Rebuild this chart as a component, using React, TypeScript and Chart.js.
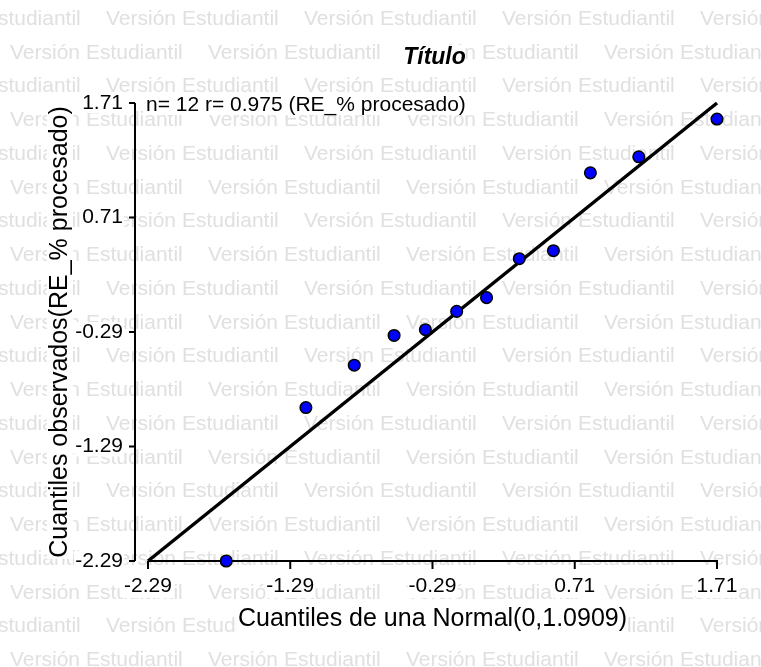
import React, { useEffect, useRef } from 'react';
import { Chart, registerables } from 'chart.js';

Chart.register(...registerables);

// ---- data ----
const xQuantiles = [-1.74, -1.18, -0.84, -0.56, -0.34, -0.12, 0.09, 0.32, 0.56, 0.82, 1.16, 1.71];
const yObserved = [-2.29, -0.95, -0.58, -0.32, -0.27, -0.11, 0.01, 0.35, 0.42, 1.1, 1.24, 1.57];
const lineX = [-2.29, 1.71];
const lineY = [-2.29, 1.71];
const tickValues = [-2.29, -1.29, -0.29, 0.71, 1.71];
const titleText = 'Título';
const noteText = 'n= 12 r= 0.975 (RE_% procesado)';
const xTitle = 'Cuantiles de una Normal(0,1.0909)';
const yTitle = 'Cuantiles observados(RE_% procesado)';
const watermarkText = 'Versión Estudiantil';

const FAMILY = '"Liberation Sans", Arial, sans-serif';
const fmt = (v: number) => Number(v).toFixed(2);

const decorPlugin = {
  id: 'decor',
  beforeDraw(chart: any) {
    const ctx = chart.ctx as CanvasRenderingContext2D;
    const { width, height, chartArea } = chart;
    const xs = chart.scales.x;
    const ys = chart.scales.y;
    ctx.save();
    ctx.fillStyle = '#ffffff';
    ctx.fillRect(0, 0, width, height);
    // watermark
    ctx.font = `21px ${FAMILY}`;
    ctx.fillStyle = '#e0e0e0';
    ctx.textBaseline = 'middle';
    ctx.textAlign = 'left';
    for (let k = 0; k < 20; k++) {
      const y = 19 + 33.75 * k;
      const x0 = k % 2 === 0 ? -92 : 10;
      for (let x = x0; x < width; x += 198) ctx.fillText(watermarkText, x, y);
    }
    // white backgrounds behind texts
    ctx.fillStyle = '#ffffff';
    ctx.font = `21px ${FAMILY}`;
    tickValues.forEach((v) => {
      const w = ctx.measureText(fmt(v)).width;
      const px = xs.getPixelForValue(v);
      ctx.fillRect(px - w / 2 - 1, chartArea.bottom + 16, w + 2, 21);
      const py = ys.getPixelForValue(v);
      ctx.fillRect(chartArea.left - 25 - w - 1, py - 10, w + 2, 20);
    });
    const nw = ctx.measureText(noteText).width;
    ctx.fillRect(chartArea.left - 3, chartArea.top - 8, nw + 2, 20);
    ctx.font = `bold italic 23px ${FAMILY}`;
    const tw = ctx.measureText(titleText).width;
    const cx = (chartArea.left + chartArea.right) / 2;
    ctx.fillRect(cx - tw / 2 - 1, 45, tw + 2, 26);
    ctx.font = `25px ${FAMILY}`;
    const xw = ctx.measureText(xTitle).width;
    ctx.fillRect(cx - xw / 2 - 1, 606, xw + 2, 26);
    const yw = ctx.measureText(yTitle).width;
    const cy = (chartArea.top + chartArea.bottom) / 2;
    ctx.fillRect(47, cy - yw / 2 - 1, 26, yw + 2);
    ctx.restore();
  },
  beforeDatasetsDraw(chart: any) {
    const ctx = chart.ctx as CanvasRenderingContext2D;
    const { chartArea } = chart;
    const xs = chart.scales.x;
    const ys = chart.scales.y;
    ctx.save();
    ctx.strokeStyle = '#000';
    ctx.lineWidth = 2;
    const ax = chartArea.left - 13;
    ctx.beginPath();
    ctx.moveTo(ax, chartArea.top);
    ctx.lineTo(ax, chartArea.bottom);
    tickValues.forEach((v) => {
      const py = ys.getPixelForValue(v);
      ctx.moveTo(ax - 6, py);
      ctx.lineTo(ax, py);
    });
    ctx.moveTo(chartArea.left, chartArea.bottom);
    ctx.lineTo(chartArea.right + 1, chartArea.bottom);
    tickValues.forEach((v) => {
      const px = xs.getPixelForValue(v);
      ctx.moveTo(px, chartArea.bottom);
      ctx.lineTo(px, chartArea.bottom + 8);
    });
    ctx.stroke();
    ctx.restore();
  },
  afterDraw(chart: any) {
    const ctx = chart.ctx as CanvasRenderingContext2D;
    const { chartArea } = chart;
    ctx.save();
    ctx.fillStyle = '#000';
    ctx.textBaseline = 'middle';
    ctx.textAlign = 'center';
    ctx.font = `bold italic 23px ${FAMILY}`;
    ctx.fillText(titleText, (chartArea.left + chartArea.right) / 2 + 2, 58);
    ctx.textAlign = 'left';
    ctx.font = `21px ${FAMILY}`;
    ctx.fillText(noteText, chartArea.left - 2, chartArea.top + 2);
    ctx.restore();
  },
};

export default function App() {
  const ref = useRef<HTMLCanvasElement>(null);
  useEffect(() => {
    if (!ref.current) return;
    const setTicks = (scale: any) => {
      scale.ticks = tickValues.map((v) => ({ value: v }));
    };
    const chart = new Chart(ref.current, {
      type: 'scatter',
      data: {
        datasets: [
          {
            type: 'scatter',
            data: xQuantiles.map((x, i) => ({ x, y: yObserved[i] })),
            backgroundColor: '#0000ff',
            borderColor: '#000000',
            borderWidth: 1.5,
            pointRadius: 5.8,
            clip: false,
          } as any,
          {
            type: 'line',
            data: lineX.map((x, i) => ({ x, y: lineY[i] })),
            borderColor: '#000000',
            borderWidth: 3.5,
            pointRadius: 0,
            fill: false,
            clip: false,
          } as any,
        ],
      },
      options: {
        responsive: false,
        animation: false,
        devicePixelRatio: 1,
        layout: { padding: { top: 103, right: 44, left: 0, bottom: 0 } },
        plugins: {
          legend: { display: false },
          tooltip: { enabled: false },
          title: { display: false },
        },
        scales: {
          x: {
            type: 'linear',
            position: 'bottom',
            min: -2.29,
            max: 1.71,
            afterBuildTicks: setTicks,
            afterFit: (s: any) => {
              s.height = 106;
            },
            grid: { display: false, drawTicks: false },
            border: { display: false },
            ticks: {
              autoSkip: false,
              maxRotation: 0,
              padding: 13,
              color: '#000',
              font: { family: FAMILY, size: 21 },
              callback: (v: any) => fmt(v),
            },
            title: {
              display: true,
              text: xTitle,
              color: '#000',
              font: { family: FAMILY, size: 25 },
              padding: { top: 0, bottom: 33 },
            },
          },
          y: {
            type: 'linear',
            position: 'left',
            min: -2.29,
            max: 1.71,
            afterBuildTicks: setTicks,
            afterFit: (s: any) => {
              s.width = 148;
            },
            grid: { display: false, drawTicks: false },
            border: { display: false },
            ticks: {
              autoSkip: false,
              padding: 25,
              color: '#000',
              font: { family: FAMILY, size: 21 },
              callback: (v: any) => fmt(v),
            },
            title: {
              display: true,
              text: yTitle,
              color: '#000',
              font: { family: FAMILY, size: 25 },
              padding: { top: 45, bottom: 0 },
            },
          },
        },
      } as any,
      plugins: [decorPlugin],
    });
    return () => chart.destroy();
  }, []);
  return (
    <div style={{ position: 'absolute', left: 0, top: 0, width: 761, height: 667 }}>
      <canvas ref={ref} width={761} height={667} style={{ display: 'block' }} />
    </div>
  );
}
